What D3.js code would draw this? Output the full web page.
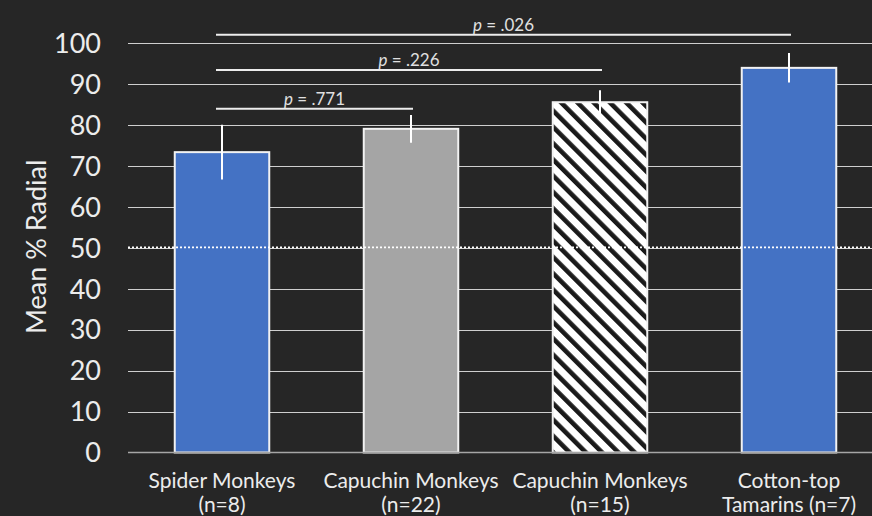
<!DOCTYPE html>
<html>
	<meta charset="utf-8" />
	<style>
		html,
		body,
		svg {
			padding: 0px;
			margin: 0px;
			background: #262626;
		}
		text {
			font-family: Lato, "Open Sans", sans-serif;
		}
	</style>
	<svg width="872" height="516"></svg>
	<script src="https://d3js.org/d3.v7.min.js"></script>
	<script>
		// chart values
		var groups = ["spider", "capuchin22", "capuchin15", "tamarin"];
		var labels = [
			["Spider Monkeys", "(n=8)"],
			["Capuchin Monkeys", "(n=22)"],
			["Capuchin Monkeys", "(n=15)"],
			["Cotton-top", "Tamarins (n=7)"],
		];
		var means = [73.4, 79.1, 85.6, 94.0];
		var errors = [6.7, 3.4, 2.9, 3.6];
		var fills = ["#4472c4", "#a5a5a5", "url(#hatch)", "#4472c4"];
		var yTicks = [0, 10, 20, 30, 40, 50, 60, 70, 80, 90, 100];
		var chanceLevel = 50;
		// significance brackets: [from group, to group, level, p]
		var brackets = [
			[0, 1, 84, ".771"],
			[0, 2, 93.5, ".226"],
			[0, 3, 102.1, ".026"],
		];

		var svg = d3.select("svg"),
			width = +svg.attr("width"),
			height = +svg.attr("height");

		var x = d3.scaleBand().domain(groups).range([127.5, 883.5]).paddingInner(0.5).paddingOuter(0.25);
		var y = d3.scaleLinear().domain([0, 100]).range([452.5, 43.3]);

		var defs = svg.append("defs");
		var pat = defs
			.append("pattern")
			.attr("id", "hatch")
			.attr("patternUnits", "userSpaceOnUse")
			.attr("width", 11.5)
			.attr("height", 11.5)
			.attr("patternTransform", "rotate(-45)");
		pat.append("rect").attr("width", 11.5).attr("height", 11.5).attr("fill", "#fff");
		pat.append("rect").attr("width", 4.6).attr("height", 11.5).attr("fill", "#1a1a1a");

		// gridlines
		svg.append("g")
			.selectAll("line")
			.data(yTicks.filter((d) => d > 0))
			.enter()
			.append("line")
			.attr("x1", 128)
			.attr("x2", width)
			.attr("y1", (d) => Math.round(y(d)) + 0.5)
			.attr("y2", (d) => Math.round(y(d)) + 0.5)
			.attr("stroke", "#cfcfcf")
			.attr("stroke-width", 1);

		// y tick labels
		svg.append("g")
			.selectAll("text")
			.data(yTicks)
			.enter()
			.append("text")
			.attr("x", 101)
			.attr("y", (d) => y(d))
			.attr("dy", "0.36em")
			.attr("text-anchor", "end")
			.attr("fill", "#ececec")
			.style("font-size", "27px")
			.text((d) => d);

		svg.append("text")
			.attr("transform", "translate(46," + (y(50) - 1) + ") rotate(-90)")
			.attr("text-anchor", "middle")
			.attr("fill", "#ececec")
			.style("font-size", "27px")
			.text("Mean % Radial");

		// bars
		svg.append("g")
			.selectAll("rect")
			.data(groups)
			.enter()
			.append("rect")
			.attr("x", (d) => x(d))
			.attr("width", x.bandwidth())
			.attr("y", (d, i) => y(means[i]))
			.attr("height", (d, i) => y(0) - y(means[i]))
			.attr("fill", (d, i) => fills[i])
			.attr("stroke", "#f2f2f2")
			.attr("stroke-width", 2);

		// baseline
		svg.append("line")
			.attr("x1", 128)
			.attr("x2", width)
			.attr("y1", y(0))
			.attr("y2", y(0))
			.attr("stroke", "#a6a6a6")
			.attr("stroke-width", 1.5);

		// chance line
		svg.append("line")
			.attr("x1", 128)
			.attr("x2", width)
			.attr("y1", y(chanceLevel) - 0.5)
			.attr("y2", y(chanceLevel) - 0.5)
			.attr("stroke", "#fff")
			.attr("stroke-width", 1.6)
			.attr("stroke-dasharray", "2,2");

		// error bars
		svg.append("g")
			.selectAll("line")
			.data(groups)
			.enter()
			.append("line")
			.attr("x1", (d) => x(d) + x.bandwidth() / 2)
			.attr("x2", (d) => x(d) + x.bandwidth() / 2)
			.attr("y1", (d, i) => y(means[i] + errors[i]))
			.attr("y2", (d, i) => y(means[i] - errors[i]))
			.attr("stroke", "#fff")
			.attr("stroke-width", 2);

		// significance brackets
		var br = svg.append("g").selectAll("g").data(brackets).enter().append("g");
		br.append("line")
			.attr("x1", (d) => x(groups[d[0]]) + x.bandwidth() / 2 - 6)
			.attr("x2", (d) => x(groups[d[1]]) + x.bandwidth() / 2 + 2)
			.attr("y1", (d) => y(d[2]))
			.attr("y2", (d) => y(d[2]))
			.attr("stroke", "#ececec")
			.attr("stroke-width", 2);
		var pt = br
			.append("text")
			.attr("x", (d) => (x(groups[d[0]]) + x(groups[d[1]]) + x.bandwidth()) / 2 - 2)
			.attr("y", (d) => y(d[2]) - 4)
			.attr("text-anchor", "middle")
			.attr("fill", "#e0e0e0")
			.style("font-size", "17px");
		pt.append("tspan").style("font-style", "italic").text("p");
		pt.append("tspan").text((d) => " = " + d[3]);

		// category labels
		var cat = svg
			.append("g")
			.selectAll("text")
			.data(groups)
			.enter()
			.append("text")
			.attr("x", (d) => x(d) + x.bandwidth() / 2)
			.attr("text-anchor", "middle")
			.attr("fill", "#ececec")
			.style("font-size", "21px");
		cat.append("tspan")
			.attr("x", (d) => x(d) + x.bandwidth() / 2)
			.attr("y", 488)
			.text((d, i) => labels[i][0]);
		cat.append("tspan")
			.attr("x", (d) => x(d) + x.bandwidth() / 2)
			.attr("y", 512)
			.text((d, i) => labels[i][1]);
	</script>
</html>
